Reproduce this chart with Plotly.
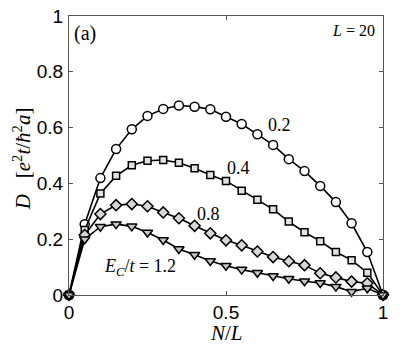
import plotly.graph_objects as go

# filling N/L in steps of 0.05
n_over_l = [i / 20 for i in range(21)]

d_ec02 = [0, 0.254, 0.419, 0.523, 0.594, 0.642, 0.667, 0.679, 0.675, 0.666, 0.639,
          0.613, 0.576, 0.538, 0.487, 0.444, 0.391, 0.333, 0.257, 0.154, 0]
d_ec04 = [0, 0.233, 0.364, 0.427, 0.465, 0.481, 0.484, 0.474, 0.454, 0.430, 0.409,
          0.374, 0.341, 0.307, 0.263, 0.225, 0.193, 0.154, 0.125, 0.080, 0]
d_ec08 = [0, 0.215, 0.290, 0.322, 0.326, 0.318, 0.296, 0.275, 0.248, 0.221, 0.196,
          0.178, 0.156, 0.136, 0.121, 0.107, 0.078, 0.063, 0.048, 0.042, 0]
d_ec12 = [0, 0.200, 0.245, 0.254, 0.246, 0.224, 0.197, 0.165, 0.144, 0.122, 0.105,
          0.091, 0.080, 0.068, 0.058, 0.049, 0.043, 0.030, 0.012, 0.024, 0]

x_ticks = [0, 0.5, 1]
x_ticklabels = ["0", "0.5", "1"]
y_ticks = [0, 0.2, 0.4, 0.6, 0.8, 1]
y_ticklabels = ["0", "0.2", "0.4", "0.6", "0.8", "1"]

series = [
    (d_ec02, "circle", 9, "white"),
    (d_ec04, "square", 7, "#e2e2e2"),
    (d_ec08, "diamond", 8.5, "#d6d9d2"),
    (d_ec12, "triangle-down", 9, "#c6c6c6"),
]

fig = go.Figure()
for vals, sym, sz, fill in series:
    fig.add_trace(go.Scatter(
        x=n_over_l, y=vals, mode="lines+markers",
        line=dict(color="black", width=1.6),
        marker=dict(symbol=sym, size=sz, color=fill,
                    line=dict(color="black", width=1.5)),
        cliponaxis=False, showlegend=False,
    ))

serif = "Liberation Serif, DejaVu Serif, serif"

# curve labels
fig.add_annotation(x=0.670, y=0.61, text="0.2", showarrow=False,
                   font=dict(family=serif, size=18, color="black"))
fig.add_annotation(x=0.541, y=0.454, text="0.4", showarrow=False,
                   font=dict(family=serif, size=18, color="black"))
fig.add_annotation(x=0.443, y=0.290, text="0.8", showarrow=False,
                   font=dict(family=serif, size=18, color="black"))
fig.add_annotation(x=0.226, y=0.100,
                   text="<i>E</i><sub><i>C</i></sub>/<i>t</i> = 1.2", showarrow=False,
                   font=dict(family=serif, size=18, color="black"))
fig.add_annotation(x=0.01, y=0.985, xanchor="left", yanchor="top", text="(a)",
                   showarrow=False, font=dict(family=serif, size=20, color="black"))
fig.add_annotation(x=0.98, y=0.985, xanchor="right", yanchor="top",
                   text="<i>L</i> = 20", showarrow=False,
                   font=dict(family=serif, size=16, color="black"))

# axis titles placed by hand
fig.add_annotation(xref="paper", yref="paper", x=0.5, y=-0.137,
                   xanchor="center", yanchor="middle", text="<i>N</i>/<i>L</i>",
                   showarrow=False, font=dict(family=serif, size=21, color="black"))
fig.add_annotation(xref="paper", yref="paper", x=-0.15, y=0.49, textangle=-90,
                   xanchor="center", yanchor="middle",
                   text="<i>D</i>   [<i>e</i><sup>2</sup><i>t</i>/<i>ħ</i><sup>2</sup><i>a</i>]",
                   showarrow=False, font=dict(family=serif, size=21, color="black"))

axis_common = dict(
    showline=True, linecolor="#555555", linewidth=1, mirror="ticks",
    ticks="inside", ticklen=4, tickcolor="#555555", showgrid=False, zeroline=False,
    ticklabeloverflow="allow", automargin=False,
    tickfont=dict(family="Liberation Sans, Arial, sans-serif", size=19, color="black"),
)

fig.update_xaxes(range=[0, 1], tickvals=x_ticks, ticktext=x_ticklabels,
                 ticklabelstandoff=0, **axis_common)
fig.update_yaxes(range=[0, 1], tickvals=y_ticks, ticktext=y_ticklabels,
                 ticklabelstandoff=1, **axis_common)

# page body has an 8px margin, so the figure is pulled up/left by that much
fig.update_layout(
    width=399, height=336,
    margin=dict(l=61, r=24, t=8, b=49),
    plot_bgcolor="white", paper_bgcolor="white",
)

fig.write_html("out.html")
